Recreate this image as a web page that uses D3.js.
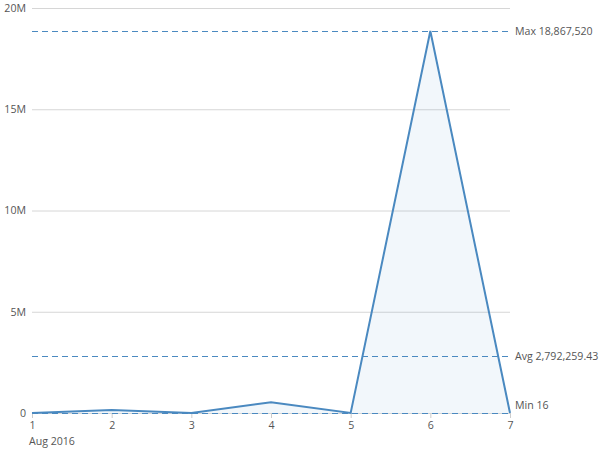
<!DOCTYPE html>
<html lang="en">
  <head>
    <meta charset="utf-8"/>
    <title>Aug 2016 line chart</title>
    <script src="https://cdn.jsdelivr.net/npm/d3@7"></script>
    <style>
      body { margin: 0; background: #fff; }
      text { font-family: "Open Sans", sans-serif; font-size: 10.6px; fill: #555; }
    </style>
  </head>
  <body>
    <div id="chart"></div>
    <script type="text/javascript">

      // data
      var days = [1, 2, 3, 4, 5, 6, 7];
      var values = [16, 150000, 16, 528232, 16, 18867520, 16];
      var yTicks = [0, 5e6, 10e6, 15e6, 20e6];
      var monthLabel = "Aug 2016";

      var w = 600, h = 450;
      var margin = {top: 8, right: 90, bottom: 37, left: 32};
      var lineColour = "#4a89c0";

      var svg = d3.select("#chart")
        .append("svg")
        .attr("width", w)
        .attr("height", h)
      ;

      var x = d3.scaleLinear()
        .domain([1, 7])
        .range([margin.left, w - margin.right])
      ;
      var y = d3.scaleLinear()
        .domain([0, 20e6])
        .range([h - margin.bottom, margin.top])
      ;

      // gridlines + y labels
      var yAxis = d3.axisLeft(y)
        .tickValues(yTicks)
        .tickSize(-(x.range()[1] - x.range()[0]))
        .tickPadding(6)
        .tickFormat(function(d) { return d === 0 ? "0" : (d / 1e6) + "M"; })
      ;
      var gy = svg.append("g")
        .attr("transform", "translate(" + margin.left + ",0)")
        .call(yAxis)
      ;
      gy.select(".domain").remove();
      gy.selectAll(".tick line").attr("stroke", "#d6d6d6");
      gy.selectAll(".tick text").attr("x", -6);

      // x axis ticks
      var xAxis = d3.axisBottom(x)
        .tickValues(days)
        .tickSize(5)
        .tickPadding(3)
        .tickFormat(d3.format("d"))
      ;
      var gx = svg.append("g")
        .attr("transform", "translate(0," + y(0) + ")")
        .call(xAxis)
      ;
      gx.select(".domain").remove();
      gx.selectAll(".tick line").attr("stroke", "#ccc");

      svg.append("text")
        .attr("x", margin.left - 3)
        .attr("y", y(0) + 32)
        .text(monthLabel)
      ;

      // area + line
      var area = d3.area()
        .x(function(d, i) { return x(days[i]); })
        .y0(y(0))
        .y1(function(d) { return y(d); })
      ;
      var line = d3.line()
        .x(function(d, i) { return x(days[i]); })
        .y(function(d) { return y(d); })
      ;

      svg.append("path")
        .datum(values)
        .attr("d", area)
        .attr("fill", lineColour)
        .attr("fill-opacity", 0.07)
      ;

      // reference lines: max, avg, min
      var maxV = d3.max(values);
      var minV = d3.min(values);
      var avgV = d3.mean(values);
      var refs = [
        {v: maxV, label: "Max " + d3.format(",")(maxV), dy: 0},
        {v: avgV, label: "Avg " + d3.format(",.2f")(avgV), dy: 0},
        {v: minV, label: "Min " + d3.format(",")(minV), dy: -8}
      ];

      svg.selectAll(".ref")
        .data(refs)
        .enter()
        .append("line")
        .attr("class", "ref")
        .attr("x1", x(1))
        .attr("x2", x(7))
        .attr("y1", function(d) { return Math.round(y(d.v)) + 0.5; })
        .attr("y2", function(d) { return Math.round(y(d.v)) + 0.5; })
        .attr("stroke", lineColour)
        .attr("stroke-width", 1)
        .attr("stroke-dasharray", "6,4")
      ;

      svg.append("path")
        .datum(values)
        .attr("d", line)
        .attr("fill", "none")
        .attr("stroke", lineColour)
        .attr("stroke-width", 2)
      ;

      svg.selectAll(".refLabel")
        .data(refs)
        .enter()
        .append("text")
        .attr("class", "refLabel")
        .attr("x", x(7) + 5)
        .attr("y", function(d) { return y(d.v) + d.dy; })
        .attr("dy", "0.35em")
        .text(function(d) { return d.label; })
      ;
    </script>
  </body>
</html>
